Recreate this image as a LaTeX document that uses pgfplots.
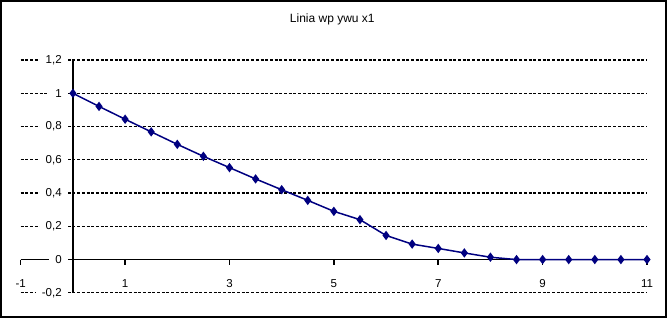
\documentclass[border=0pt]{standalone}
\usepackage{fontspec}
\setmainfont{Liberation Sans}
\usepackage{pgfplots}
\pgfplotsset{compat=1.18}
\definecolor{navy}{RGB}{0,0,128}
\begin{document}
\begin{tikzpicture}
\begin{axis}[
  scale only axis, width=626pt, height=232.7pt,
  xmin=-1, xmax=11, ymin=-0.2, ymax=1.2,
  axis lines=middle,
  axis line style={black, line width=1.5pt, -},
  clip=false,
  xtick={-1,1,3,5,7,9,11},
  xticklabels={{-1},{1},{3},{5},{7},{9},{11}},
  ytick={-0.2,0,0.2,0.4,0.6,0.8,1,1.2},
  yticklabels={{-0,2},{0},{0,2},{0,4},{0,6},{0,8},{1},{1,2}},
  hide obscured x ticks=false, hide obscured y ticks=false,
  ymajorgrids,
  major grid style={black, line width=1.3pt, dash pattern=on 3pt off 1.7pt},
  ytick style={draw=none},
  xtick style={black, line width=1.5pt},
  tick align=outside,
  major tick length=5pt,
  ticklabel style={font=\fontsize{11.5}{13}\selectfont},
  xticklabel style={anchor=center, yshift=-19pt},
  yticklabel style={anchor=east, fill=white, inner xsep=6pt, inner ysep=1pt},
]
\addplot[color=navy, line width=1.5pt, mark=diamond*, mark size=3.5pt, mark options={fill=navy}] coordinates {
(0,1) (0.5,0.921) (1,0.844) (1.5,0.768) (2,0.693) (2.5,0.621) (3,0.553)
(3.5,0.485) (4,0.42) (4.5,0.356) (5,0.29) (5.5,0.24) (6,0.145) (6.5,0.093)
(7,0.067) (7.5,0.04) (8,0.014) (8.5,0) (9,0) (9.5,0) (10,0) (10.5,0) (11,0)
};
\draw[black, line width=2pt] (axis cs:-1.378,-0.346) rectangle (axis cs:11.364,1.555);
\node[anchor=base, font=\fontsize{12}{14}\selectfont] at (axis cs:4.97,1.423) {Linia wp ywu x1};
\end{axis}
\end{tikzpicture}
\end{document}
